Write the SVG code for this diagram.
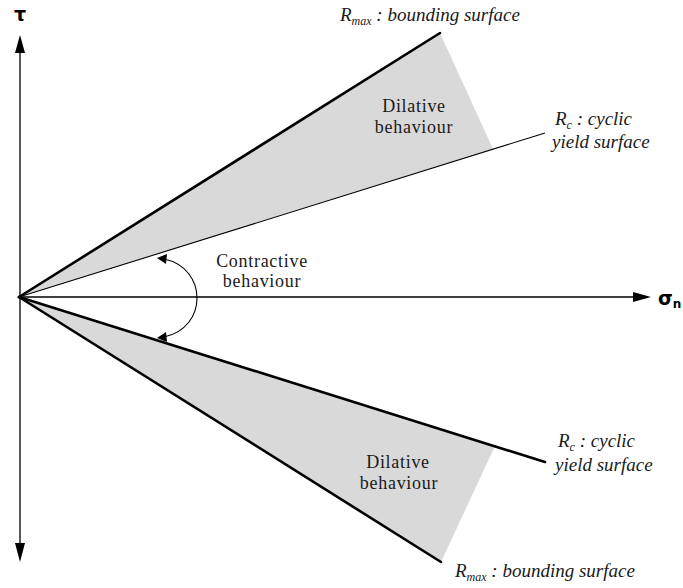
<svg xmlns="http://www.w3.org/2000/svg" width="683" height="588" viewBox="0 0 683 588">
<style>
.shade{fill:#d9d9d9;stroke:none}
.thick{stroke:#000;stroke-width:2.6;fill:none;stroke-linecap:round}
.thin{stroke:#000;stroke-width:1.1;fill:none}
.axis{stroke:#000;stroke-width:1.3;fill:none}
.lbl{font-family:"Liberation Serif","Times New Roman",serif;font-size:18px;fill:#1a1a1a;text-anchor:middle;letter-spacing:0.7px}
.it{font-family:"Liberation Serif","Times New Roman",serif;font-size:19px;font-style:italic;fill:#1a1a1a}
.sub{font-size:12px}
.ax{font-family:"DejaVu Sans","Liberation Sans",sans-serif;font-weight:bold;fill:#000}
</style>
<g id="shading">
<polygon class="shade" points="19,297 440,33 493,149"/>
<polygon class="shade" points="19,297 495,446 441,562"/>
</g>
<g id="connectors">
<line class="axis" x1="20" y1="50" x2="20" y2="546"/>
<polygon points="20,35 15,53 25,53" fill="#000"/>
<polygon points="20,562 15,543 25,543" fill="#000"/>
<line class="axis" x1="19" y1="297" x2="636" y2="297"/>
<polygon points="651,297 633,292 633,302" fill="#000"/>
<line class="thick" x1="19" y1="297" x2="440" y2="33"/>
<line class="thin" x1="19" y1="297" x2="545" y2="133"/>
<line class="thick" x1="19" y1="297" x2="545" y2="462"/>
<line class="thick" x1="19" y1="297" x2="441" y2="562"/>
<path class="thin" d="M164,259 C208,268 208,328 164,337"/>
<polygon points="157,258 167,254 166,264" fill="#000"/>
<polygon points="157,338 166,332 167,342" fill="#000"/>
</g>
<g id="tau"><text class="ax" x="20" y="21" font-size="19" text-anchor="middle">τ</text></g>
<g id="sigma"><text class="ax" x="658" y="305" font-size="19">σ<tspan font-size="12" dy="3">n</tspan></text></g>
<g id="rmax-top"><text class="it" x="340" y="21">R<tspan class="sub" dy="4">max</tspan><tspan dy="-4"> : bounding surface</tspan></text></g>
<g id="dilative-top">
<text class="lbl" x="414" y="112">Dilative</text>
<text class="lbl" x="414" y="133">behaviour</text>
</g>
<g id="rc-top">
<text class="it" x="555" y="125">R<tspan class="sub" dy="4">c</tspan><tspan dy="-4"> : cyclic</tspan></text>
<text class="it" x="552" y="148">yield surface</text>
</g>
<g id="contractive">
<text class="lbl" x="262" y="267">Contractive</text>
<text class="lbl" x="262" y="287">behaviour</text>
</g>
<g id="dilative-bottom">
<text class="lbl" x="398" y="468">Dilative</text>
<text class="lbl" x="399" y="489">behaviour</text>
</g>
<g id="rc-bottom">
<text class="it" x="558" y="447">R<tspan class="sub" dy="4">c</tspan><tspan dy="-4"> : cyclic</tspan></text>
<text class="it" x="555" y="471">yield surface</text>
</g>
<g id="rmax-bottom"><text class="it" x="455" y="577">R<tspan class="sub" dy="4">max</tspan><tspan dy="-4"> : bounding surface</tspan></text></g>
</svg>
